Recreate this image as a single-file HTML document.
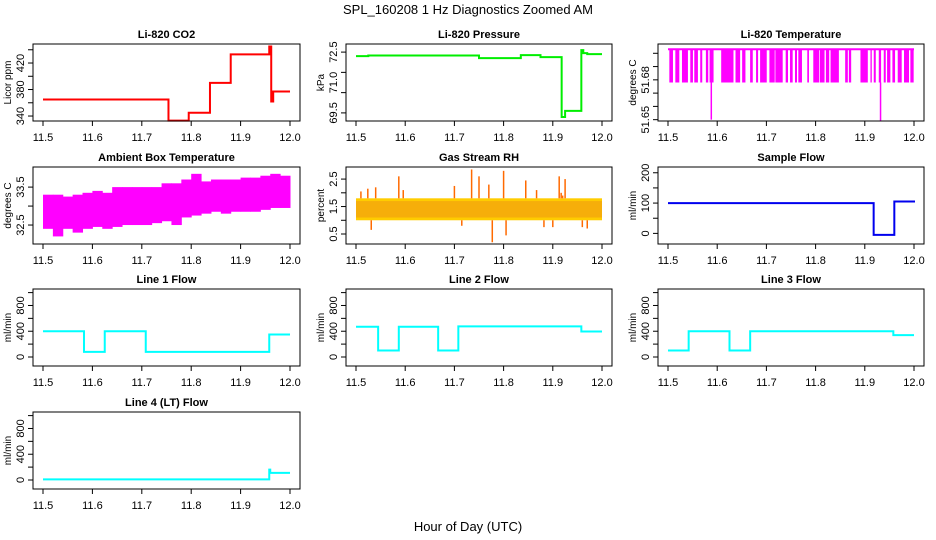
<!DOCTYPE html>
<html><head><meta charset="utf-8"><style>
html,body{margin:0;padding:0;background:#fff;}
svg{display:block;font-family:"Liberation Sans",Arial,sans-serif;}
</style></head><body>
<svg id="chart" width="936" height="540" viewBox="0 0 936 540" xmlns="http://www.w3.org/2000/svg">
<text x="468" y="14" font-size="13" text-anchor="middle">SPL_160208 1 Hz Diagnostics Zoomed AM</text>
<text x="468" y="531" font-size="13" text-anchor="middle">Hour of Day (UTC)</text>
</svg>
<script>
// ---- data ----
const xTicks = [11.5, 11.6, 11.7, 11.8, 11.9, 12.0];
const xTickLabels = ["11.5", "11.6", "11.7", "11.8", "11.9", "12.0"];

const co2Times = [11.5, 11.754, 11.795, 11.838, 11.88, 11.958, 11.962, 11.966, 12.0];
const co2Values = [365, 333, 345, 390, 433, 445, 362, 377, 377];
const co2Ticks = [340, 360, 380, 400, 420, 440];
const co2Labels = ["340", "380", "420"];

const presTimes = [11.5, 11.525, 11.75, 11.835, 11.875, 11.918, 11.925, 11.958, 11.962, 11.97, 12.0];
const presValues = [72.3, 72.33, 72.2, 72.35, 72.25, 69.3, 69.6, 72.6, 72.45, 72.4, 72.4];
const presTicks = [69.5, 70.5, 71.5, 72.5];
const presLabelVals = [69.5, 71.0, 72.5];
const presLabels = ["69.5", "71.0", "72.5"];

const tempHigh = 51.703;
const tempLow = 51.678;
const tempDropStarts = [11.5027,11.5149,11.5284,11.5453,11.5534,11.5655,11.577,11.5845,11.6081,11.6372,11.6507,11.6669,11.679,11.6872,11.7061,11.7182,11.7392,11.748,11.7581,11.7649,11.7831,11.7953,11.8088,11.8209,11.8304,11.8601,11.8676,11.8912,11.9115,11.9182,11.9284,11.9385,11.9453,11.9561,11.9669,11.9797,11.9926];
const tempDropEnds   = [11.5101,11.523,11.5405,11.5507,11.5608,11.5696,11.5818,11.5926,11.6331,11.6466,11.6574,11.6723,11.6831,11.7007,11.7169,11.7331,11.7439,11.7534,11.7622,11.7723,11.7865,11.8074,11.8182,11.8277,11.8473,11.8655,11.8723,11.9061,11.9142,11.9223,11.9331,11.9426,11.952,11.9615,11.975,11.9899,11.9993];
const tempSpikeTimes = [11.588, 11.932];
const tempSpikeValues = [51.65, 51.649];
const tempTicks = [51.65, 51.66, 51.67, 51.68, 51.69, 51.70];
const tempLabelVals = [51.65, 51.68];
const tempLabels = ["51.65", "51.68"];

const ambTimes = [11.5,11.52,11.54,11.56,11.58,11.6,11.62,11.64,11.66,11.68,11.7,11.72,11.74,11.76,11.78,11.8,11.82,11.84,11.86,11.88,11.9,11.92,11.94,11.96,11.98,12.0];
const ambLows  = [32.4,32.2,32.4,32.3,32.4,32.45,32.4,32.45,32.5,32.5,32.5,32.55,32.6,32.5,32.7,32.75,32.8,32.85,32.8,32.85,32.85,32.85,32.9,32.95,32.95];
const ambHighs = [33.3,33.3,33.25,33.3,33.35,33.4,33.35,33.5,33.5,33.5,33.5,33.5,33.6,33.6,33.7,33.85,33.65,33.7,33.7,33.7,33.75,33.75,33.8,33.85,33.8];
const ambTicks = [32.5, 33.0, 33.5];
const ambLabels = ["32.5", "33.5"];

const rhBandLow = 1.0;
const rhBandHigh = 1.8;
const rhSpikeTimes = [11.51,11.524,11.531,11.54,11.587,11.596,11.7,11.715,11.735,11.75,11.77,11.777,11.8,11.805,11.845,11.867,11.882,11.9,11.913,11.917,11.92,11.925,11.96,11.97];
const rhSpikeValues = [2.05,2.15,0.65,2.2,2.6,2.1,2.25,0.8,2.85,2.6,2.3,0.2,2.8,0.45,2.45,2.1,0.75,0.75,2.6,2.0,1.9,2.5,0.75,0.7];
const rhTicks = [0.5, 1.0, 1.5, 2.0, 2.5];
const rhLabels = ["0.5", "1.5", "2.5"];

const sampTimes = [11.5, 11.918, 11.96, 12.0];
const sampValues = [100, -5, 105, 102];
const sampTicks = [0, 50, 100, 150, 200];
const sampLabels = ["0", "100", "200"];

const flowTicks = [0, 200, 400, 600, 800, 1000];
const flowLabels = ["0", "400", "800"];
const line1Times = [11.5, 11.583, 11.625, 11.708, 11.958, 12.0];
const line1Values = [400, 80, 400, 80, 350, 350];
const line2Times = [11.5, 11.545, 11.587, 11.667, 11.708, 11.958, 12.0];
const line2Values = [470, 100, 470, 100, 475, 395, 395];
const line3Times = [11.5, 11.542, 11.625, 11.667, 11.958, 12.0];
const line3Values = [100, 400, 100, 400, 340, 340];
const line4Times = [11.5, 11.958, 11.96, 12.0];
const line4Values = [10, 160, 110, 110];

// ---- layout ----
const NS = "http://www.w3.org/2000/svg";
const svg = document.getElementById('chart');
const colBox = [[33, 300], [346, 612], [658, 924]];
const rowBox = [[44, 121], [167, 244], [289, 366], [412, 489]];

function mk(tag, attrs, parent) {
  const e = document.createElementNS(NS, tag);
  for (const k in attrs) e.setAttribute(k, attrs[k]);
  (parent || svg).appendChild(e);
  return e;
}

function panel(id, col, row, title, ylab, ylo, yhi, ticks, labelVals, labels) {
  const [bx0, bx1] = colBox[col], [by0, by1] = rowBox[row];
  const g = mk('g', {});
  
  
  const xs = v => (bx0 + 10) + (v - 11.5) / 0.5 * (bx1 - bx0 - 20);
  const ys = v => by1 - (v - ylo) / (yhi - ylo) * (by1 - by0);
  const t = mk('text', {x: (bx0 + bx1) / 2, y: by0 - 6, 'font-size': 11, 'font-weight': 'bold', 'text-anchor': 'middle'}, g);
  t.textContent = title;
  
  
  const yl = mk('text', {x: 0, y: 0, 'font-size': 10, 'text-anchor': 'middle', transform: `translate(${bx0 - 22},${(by0 + by1) / 2}) rotate(-90)`}, g);
  yl.textContent = ylab;
  
  
  ticks.forEach(v => mk('line', {x1: bx0 - 5, x2: bx0, y1: ys(v), y2: ys(v), stroke: '#000'}, g));
  labelVals.forEach((v, i) => {
    const l = mk('text', {x: 0, y: 0, 'font-size': 11, 'text-anchor': 'middle', transform: `translate(${bx0 - 9},${ys(v)}) rotate(-90)`}, g);
    l.textContent = labels[i];
    
    
  });
  xTicks.forEach((v, i) => {
    mk('line', {x1: xs(v), x2: xs(v), y1: by1, y2: by1 + 5, stroke: '#000'}, g);
    const l = mk('text', {x: xs(v), y: by1 + 20, 'font-size': 11, 'text-anchor': 'middle'}, g);
    l.textContent = xTickLabels[i];
    
    
  });
  const plot = mk('g', {}, g);
  
  
  const box = mk('rect', {x: bx0, y: by0, width: bx1 - bx0, height: by1 - by0, fill: 'none', stroke: '#000'}, g);
  
  
  return {xs, ys, plot};
}

function steps(p, id, times, vals, color, w) {
  let d = '';
  for (let i = 0; i < vals.length; i++) {
    const x0 = p.xs(times[i]), x1 = p.xs(times[i + 1] !== undefined ? times[i + 1] : times[i]);
    d += (i === 0 ? 'M' : 'L') + x0 + ',' + p.ys(vals[i]) + 'L' + x1 + ',' + p.ys(vals[i]);
  }
  const e = mk('path', {d, fill: 'none', stroke: color, 'stroke-width': w}, p.plot);
  
  
}

// CO2
let p = panel('co2', 0, 0, 'Li-820 CO2', 'Licor ppm', 332.5, 448.7, co2Ticks, [340, 380, 420], co2Labels);
steps(p, 'co2', co2Times, co2Values, '#ff0000', 2);

// Pressure
p = panel('pressure', 1, 0, 'Li-820 Pressure', 'kPa', 69.1, 72.9, presTicks, presLabelVals, presLabels);
steps(p, 'pressure', presTimes, presValues, '#00ee00', 2);

// Temperature
p = panel('temperature', 2, 0, 'Li-820 Temperature', 'degrees C', 51.649, 51.707, tempTicks, tempLabelVals, tempLabels);
{
  const e = mk('line', {x1: p.xs(11.5), x2: p.xs(12.0), y1: p.ys(tempHigh), y2: p.ys(tempHigh), stroke: '#ff00ff', 'stroke-width': 2}, p.plot);
  
  
  tempDropStarts.forEach((s, i) => {
    const r = mk('rect', {x: p.xs(s), y: p.ys(tempHigh), width: Math.max(1, p.xs(tempDropEnds[i]) - p.xs(s)), height: p.ys(tempLow) - p.ys(tempHigh), fill: '#ff00ff'}, p.plot);
    
    
  });
  tempSpikeTimes.forEach((s, i) => {
    const l = mk('line', {x1: p.xs(s), x2: p.xs(s), y1: p.ys(tempLow), y2: p.ys(tempSpikeValues[i]), stroke: '#ff00ff', 'stroke-width': 1.5}, p.plot);
    
    
  });
}

// Ambient
p = panel('ambient', 0, 1, 'Ambient Box Temperature', 'degrees C', 32.0, 34.03, ambTicks, ambTicks.filter((v, i) => i !== 1), ambLabels);
ambLows.forEach((lo, i) => {
  const x0 = p.xs(ambTimes[i]), x1 = p.xs(ambTimes[i + 1]);
  const r = mk('rect', {x: x0, y: p.ys(ambHighs[i]), width: x1 - x0 + 0.5, height: p.ys(lo) - p.ys(ambHighs[i]), fill: '#ff00ff'}, p.plot);
  
  
});

// RH
p = panel('rh', 1, 1, 'Gas Stream RH', 'percent', 0.136, 2.94, rhTicks, [0.5, 1.5, 2.5], rhLabels);
{
  const r = mk('rect', {x: p.xs(11.5), y: p.ys(rhBandHigh), width: p.xs(12.0) - p.xs(11.5), height: p.ys(rhBandLow) - p.ys(rhBandHigh), fill: '#ffcc00'}, p.plot);
  
  
  const r2 = mk('rect', {x: p.xs(11.5), y: p.ys(rhBandHigh - 0.1), width: p.xs(12.0) - p.xs(11.5), height: p.ys(rhBandLow + 0.1) - p.ys(rhBandHigh - 0.1), fill: '#f09a10', opacity: 0.6}, p.plot);
  
  
  rhSpikeTimes.forEach((s, i) => {
    const base = rhSpikeValues[i] > 1.4 ? rhBandHigh : rhBandLow;
    const l = mk('line', {x1: p.xs(s), x2: p.xs(s), y1: p.ys(base), y2: p.ys(rhSpikeValues[i]), stroke: '#ff6a00', 'stroke-width': 1.5}, p.plot);
    
    
  });
}

// Sample flow
p = panel('sample-flow', 2, 1, 'Sample Flow', 'ml/min', -35, 219, sampTicks, [0, 100, 200], sampLabels);
steps(p, 'sample-flow', sampTimes, sampValues, '#0000ee', 2);

// Line flows
const fl = [-140, 1056];
p = panel('line1', 0, 2, 'Line 1 Flow', 'ml/min', fl[0], fl[1], flowTicks, [0, 400, 800], flowLabels);
steps(p, 'line1', line1Times, line1Values, '#00ffff', 2);
p = panel('line2', 1, 2, 'Line 2 Flow', 'ml/min', fl[0], fl[1], flowTicks, [0, 400, 800], flowLabels);
steps(p, 'line2', line2Times, line2Values, '#00ffff', 2);
p = panel('line3', 2, 2, 'Line 3 Flow', 'ml/min', fl[0], fl[1], flowTicks, [0, 400, 800], flowLabels);
steps(p, 'line3', line3Times, line3Values, '#00ffff', 2);
p = panel('line4', 0, 3, 'Line 4 (LT) Flow', 'ml/min', fl[0], fl[1], flowTicks, [0, 400, 800], flowLabels);
steps(p, 'line4', line4Times, line4Values, '#00ffff', 2);
</script>
</body></html>
